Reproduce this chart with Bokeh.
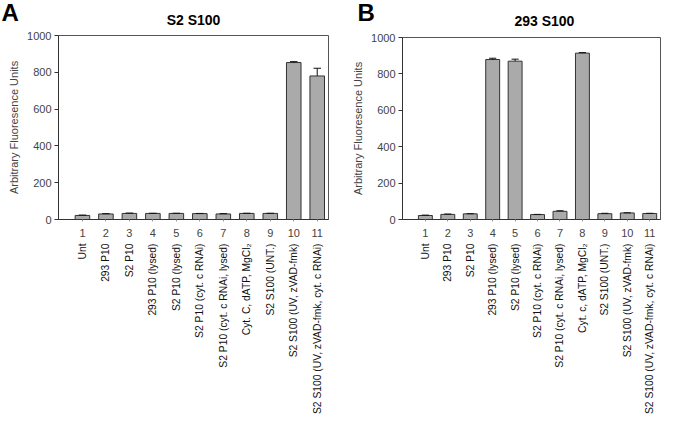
import math
from bokeh.plotting import figure
from bokeh.models import Range1d, LinearAxis, FixedTicker, ColumnDataSource
from bokeh.layouts import row, column
from bokeh.embed import file_html
from bokeh.resources import INLINE

positions = [1, 2, 3, 4, 5, 6, 7, 8, 9, 10, 11]
yticks = [0, 200, 400, 600, 800, 1000]

panel_letters = ["A", "B"]
panel_titles = ["S2 S100", "293 S100"]

labels_a = ["Unt", "293 P10", "S2 P10", "293 P10 (lysed)", "S2 P10 (lysed)",
            "S2 P10 (cyt. c RNAi)", "S2 P10 (cyt. c RNAi, lysed)", "Cyt. C, dATP, MgCl\u2082",
            "S2 S100 (UNT.)", "S2 S100 (UV, zVAD-fmk)", "S2 S100 (UV, zVAD-fmk, cyt. c RNAi)"]
labels_b = ["Unt", "293 P10", "S2 P10", "293 P10 (lysed)", "S2 P10 (lysed)",
            "S2 P10 (cyt. c RNAi)", "S2 P10 (cyt. c RNAi, lysed)", "Cyt. c, dATP, MgCl\u2082",
            "S2 S100 (UNT.)", "S2 S100 (UV, zVAD-fmk)", "S2 S100 (UV, zVAD-fmk, cyt. c RNAi)"]

values_a = [22, 30, 33, 33, 33, 32, 30, 33, 33, 853, 780]
errors_a = [2, 2, 2, 1, 1, 1, 2, 1, 1, 5, 42]
values_b = [22, 28, 31, 879, 870, 27, 45, 914, 32, 36, 33]
errors_b = [2, 2, 1, 7, 11, 1, 3, 3, 2, 1, 1]

FONT = "Liberation Sans"
X0, X1 = -0.02, 11.48
TOTAL_W, H = 662, 417
WA = 336
WB = TOTAL_W - WA
HEAD_H = 28
AXIS_H = 23
MAIN_H = 214

# panel geometry (pixels)
WIDTHS = [WA, WB]
ML = [58, 66]
MR = [8, 2]
TOPB = [7, 9]


def blank(fig):
    fig.outline_line_color = None
    fig.background_fill_color = "white"
    fig.border_fill_color = "white"
    fig.grid.visible = False


def make_panel(labels, values, errors, w, ml, mr, topb):
    lab_h = H - HEAD_H - MAIN_H
    xr = Range1d(X0, X1)

    p = figure(width=w, height=MAIN_H, x_range=xr, y_range=Range1d(0, 1000),
               output_backend="svg", toolbar_location=None,
               x_axis_type=None, y_axis_type=None,
               min_border_left=ml, min_border_right=mr, min_border_top=topb,
               min_border_bottom=AXIS_H)
    p.outline_line_color = "#555555"
    p.background_fill_color = "white"
    p.border_fill_color = "white"

    yax = LinearAxis(ticker=FixedTicker(ticks=yticks))
    yax.axis_label = "Arbitrary Fluoresence Units"
    yax.axis_label_text_font = FONT
    yax.axis_label_text_font_style = "normal"
    yax.axis_label_text_font_size = "11px"
    yax.axis_label_standoff = 4
    yax.major_label_text_font = FONT
    yax.major_label_text_font_size = "11px"
    yax.major_label_standoff = 3
    yax.major_tick_out = 4
    yax.major_tick_in = 0
    yax.minor_tick_out = 0
    yax.minor_tick_in = 0
    yax.axis_line_color = "#333333"
    yax.major_tick_line_color = "#333333"
    p.add_layout(yax, "left")

    xax = LinearAxis(ticker=FixedTicker(ticks=positions),
                     major_label_overrides={i: str(i) for i in positions})
    xax.major_label_text_font = FONT
    xax.major_label_text_font_size = "11px"
    xax.major_label_standoff = 7
    xax.major_tick_out = 2
    xax.major_tick_in = 0
    xax.major_tick_line_color = "#999999"
    xax.minor_tick_out = 0
    xax.minor_tick_in = 0
    xax.axis_line_color = "#333333"
    p.add_layout(xax, "below")

    src = ColumnDataSource(dict(x=positions, top=values,
                                etop=[v + e for v, e in zip(values, errors)],
                                x0=[x - 0.16 for x in positions],
                                x1=[x + 0.16 for x in positions]))
    p.vbar(x="x", top="top", bottom=0, width=0.62, source=src,
           fill_color="#aaaaaa", line_color="#333333", line_width=1)
    p.segment(x0="x", y0="top", x1="x", y1="etop", source=src, line_color="#111111", line_width=1)
    p.segment(x0="x0", y0="etop", x1="x1", y1="etop", source=src, line_color="#111111", line_width=1)

    # category names, rotated, under the numbered axis
    lab = figure(width=w, height=lab_h, x_range=xr, y_range=Range1d(-lab_h, 0),
                 output_backend="svg", toolbar_location=None,
                 x_axis_type=None, y_axis_type=None,
                 min_border_left=ml, min_border_right=mr, min_border_top=0, min_border_bottom=0)
    blank(lab)
    lsrc = ColumnDataSource(dict(x=positions, y=[-1] * len(positions), t=labels))
    lab.text(x="x", y="y", text="t", source=lsrc, angle=math.pi / 2,
             text_align="right", text_baseline="middle",
             text_font={"value": FONT}, text_font_size="10.3px", text_color="#111111")

    return column(p, lab, spacing=0)


# header strip with the panel letters and titles (pixel coordinates, y downwards)
head = figure(width=TOTAL_W, height=HEAD_H, x_range=Range1d(0, TOTAL_W), y_range=Range1d(HEAD_H, 0),
              output_backend="svg", toolbar_location=None,
              x_axis_type=None, y_axis_type=None,
              min_border_left=0, min_border_right=0, min_border_top=0, min_border_bottom=0)
blank(head)
fw = [WIDTHS[i] - ML[i] - MR[i] for i in range(2)]
letter_x = [1, WA + ML[1] - 45]
title_x = [ML[0] + 0.5 * fw[0], WA + ML[1] + 0.55 * fw[1]]
head.text(x=letter_x, y=[12, 12], text=panel_letters, text_align="left", text_baseline="middle",
          text_font={"value": FONT}, text_font_style="bold", text_font_size="24px", text_color="black")
head.text(x=title_x, y=[19.5, 20], text=panel_titles, text_align="center", text_baseline="middle",
          text_font={"value": FONT}, text_font_style="bold", text_font_size="14px", text_color="black")

pa = make_panel(labels_a, values_a, errors_a, WA, ML[0], MR[0], TOPB[0])
pb = make_panel(labels_b, values_b, errors_b, WB, ML[1], MR[1], TOPB[1])

layout = column(head, row(pa, pb, spacing=0), spacing=0)
open("out.html", "w").write(file_html(layout, INLINE))
